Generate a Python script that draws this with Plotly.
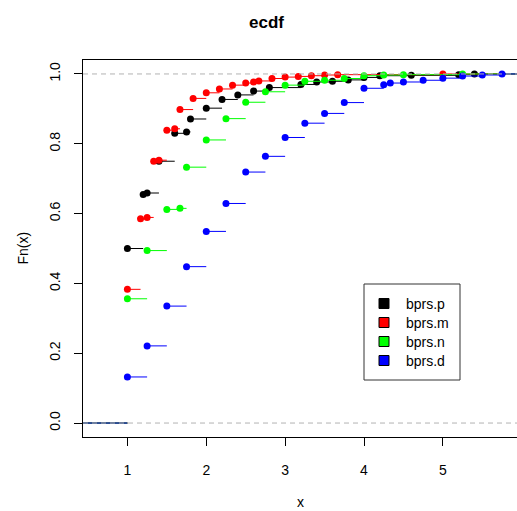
import plotly.graph_objects as go

# Empirical CDFs of four ratings: jump points (knots) and Fn value reached at each knot
series_names = ["bprs.p", "bprs.m", "bprs.n", "bprs.d"]
series_colors = ["#000000", "#FF0000", "#00FF00", "#0000FF"]

p_knots = [1.0, 1.2, 1.25, 1.4, 1.6, 1.75, 1.8, 2.0, 2.2, 2.4, 2.6, 2.8, 3.2, 3.4,
           3.6, 3.8, 4.0, 4.2, 4.6, 5.2, 5.4]
p_fn = [0.500, 0.655, 0.659, 0.750, 0.830, 0.834, 0.871, 0.902, 0.927, 0.940, 0.951,
        0.961, 0.970, 0.977, 0.979, 0.983, 0.990, 0.995, 0.996, 0.998, 1.000]

m_knots = [1.0, 1.1667, 1.25, 1.3333, 1.4, 1.5, 1.6, 1.6667, 1.8333, 2.0, 2.1667,
           2.3333, 2.5, 2.6, 2.6667, 2.8333, 3.0, 3.1667, 3.3333, 3.5, 3.6667, 5.0]
m_fn = [0.383, 0.585, 0.589, 0.750, 0.753, 0.839, 0.843, 0.898, 0.930, 0.946, 0.957,
        0.968, 0.974, 0.977, 0.980, 0.987, 0.991, 0.993, 0.995, 0.997, 0.998, 1.000]

n_knots = [1.0, 1.25, 1.5, 1.6667, 1.75, 2.0, 2.25, 2.5, 2.75, 3.0, 3.25, 3.5, 3.75,
           4.0, 4.25, 4.5, 5.25]
n_fn = [0.356, 0.494, 0.612, 0.615, 0.733, 0.811, 0.872, 0.919, 0.949, 0.968, 0.979,
        0.982, 0.987, 0.995, 0.997, 0.998, 1.000]

d_knots = [1.0, 1.25, 1.5, 1.75, 2.0, 2.25, 2.5, 2.75, 3.0, 3.25, 3.5, 3.75, 4.0,
           4.25, 4.3333, 4.5, 4.75, 5.0, 5.25, 5.5, 5.75]
d_fn = [0.132, 0.221, 0.335, 0.448, 0.549, 0.629, 0.719, 0.764, 0.818, 0.859, 0.887,
        0.918, 0.959, 0.969, 0.974, 0.977, 0.982, 0.988, 0.994, 0.997, 1.000]

x_ticks = [1, 2, 3, 4, 5]
y_ticks = [0.0, 0.2, 0.4, 0.6, 0.8, 1.0]
y_ticktext = ["0.0", "0.2", "0.4", "0.6", "0.8", "1.0"]

X_RANGE = [0.437, 5.94]
Y_RANGE = [-0.04, 1.04]
FONT = "Liberation Sans, Arial, Helvetica, sans-serif"

W, H = 517, 511
ML, MR, MT, MB = 83, 0, 60, 74


def px_x(px):
    return (px - ML) / (W - ML - MR)


def px_y(py):
    return (H - MB - py) / (H - MT - MB)


fig = go.Figure()

all_series = [(p_knots, p_fn), (m_knots, m_fn), (n_knots, n_fn), (d_knots, d_fn)]
for name, color, (knots, fn) in zip(series_names, series_colors, all_series):
    # horizontal steps only (no verticals), with y=0 to the left and y=1 to the right
    left = [X_RANGE[0] - 1.0] + list(knots)
    right = list(knots) + [X_RANGE[1] + 1.0]
    levels = [0.0] + list(fn)
    xs, ys = [], []
    for a, b, v in zip(left, right, levels):
        xs += [a, b, None]
        ys += [v, v, None]
    fig.add_trace(go.Scatter(x=xs, y=ys, mode="lines", line=dict(color=color, width=1),
                             hoverinfo="skip", showlegend=False))
    fig.add_trace(go.Scatter(x=knots, y=fn, mode="markers",
                             marker=dict(color=color, size=7, line=dict(width=0)),
                             name=name, showlegend=False))

shapes = []
# dashed reference lines at 0 and 1
for yv in (0.0, 1.0):
    shapes.append(dict(type="line", xref="paper", yref="y", x0=0, x1=1, y0=yv, y1=yv,
                       line=dict(color="#b3b3b3", width=1, dash="5px,4px"), layer="above"))

# legend box
shapes.append(dict(type="rect", xref="paper", yref="paper",
                   x0=px_x(364), x1=px_x(460), y0=px_y(380), y1=px_y(284),
                   line=dict(color="#333333", width=1), fillcolor="white", layer="above"))
annotations = []
row_y = [303.5, 322.5, 341.5, 360.5]
for name, color, ry in zip(series_names, series_colors, row_y):
    shapes.append(dict(type="rect", xref="paper", yref="paper",
                       x0=px_x(379), x1=px_x(389), y0=px_y(ry + 5), y1=px_y(ry - 5),
                       line=dict(color="#000000", width=1), fillcolor=color, layer="above"))
    annotations.append(dict(text=name, xref="paper", yref="paper", x=px_x(404), y=px_y(ry),
                            xanchor="left", yanchor="middle", showarrow=False,
                            font=dict(family=FONT, size=14, color="#000000")))

annotations.append(dict(text="<b>ecdf</b>", xref="paper", yref="paper", x=px_x(266), y=px_y(23),
                        xanchor="center", yanchor="middle", showarrow=False,
                        font=dict(family=FONT, size=17, color="#000000")))
annotations.append(dict(text="Fn(x)", xref="paper", yref="paper", x=px_x(22), y=px_y(248.5),
                        xanchor="center", yanchor="middle", textangle=-90, showarrow=False,
                        font=dict(family=FONT, size=14, color="#000000")))
annotations.append(dict(text="x", xref="paper", yref="paper", x=px_x(300), y=px_y(502),
                        xanchor="center", yanchor="middle", showarrow=False,
                        font=dict(family=FONT, size=14, color="#000000")))

fig.update_layout(
    width=W, height=H,
    margin=dict(l=ML, r=MR, t=MT, b=MB, pad=0),
    paper_bgcolor="white", plot_bgcolor="white",
    shapes=shapes, annotations=annotations,
    showlegend=False,
    xaxis=dict(range=X_RANGE, tickvals=x_ticks, ticks="outside", ticklen=8, tickwidth=1,
               tickcolor="#000000", showline=True, mirror=True, linecolor="#000000",
               linewidth=1, showgrid=False, zeroline=False, ticklabelstandoff=12,
               tickfont=dict(family=FONT, size=14, color="#000000")),
    yaxis=dict(range=Y_RANGE, tickvals=y_ticks, ticktext=y_ticktext, ticks="outside",
               ticklen=8, tickwidth=1, tickcolor="#000000", showline=True, mirror=False,
               linecolor="#000000", linewidth=1, showgrid=False, zeroline=False,
               tickangle=-90, ticklabelstandoff=8,
               tickfont=dict(family=FONT, size=14, color="#000000")),
)

fig.write_html("out.html")
